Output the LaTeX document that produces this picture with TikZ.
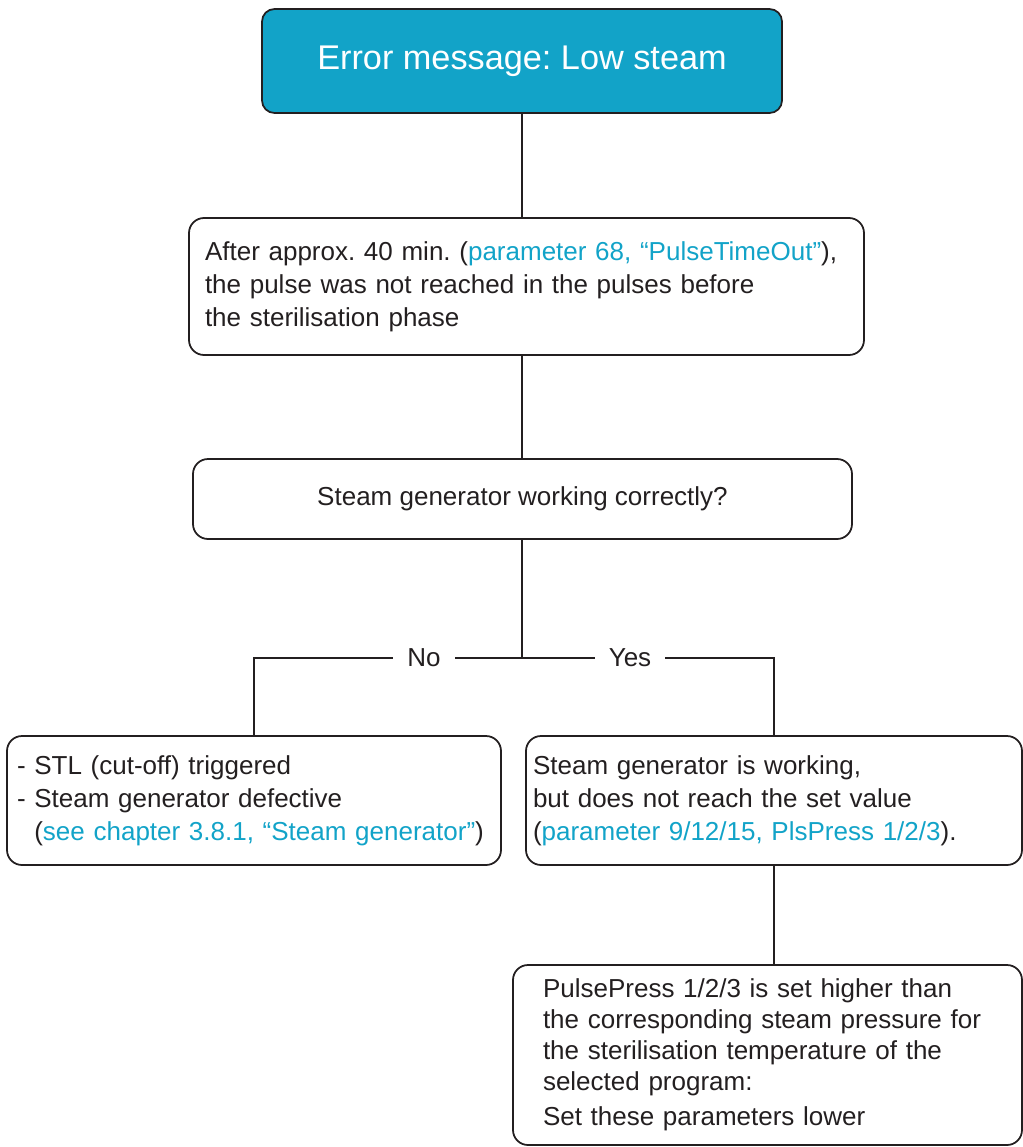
\documentclass[tikz,border=0pt]{standalone}
\usepackage{fontspec}
\setmainfont{Liberation Sans}
\frenchspacing
\definecolor{steamblue}{RGB}{18,163,200}
\definecolor{ink}{RGB}{35,31,32}
\newcommand{\linktext}[1]{\textcolor{steamblue}{#1}}

\begin{document}
\begin{tikzpicture}[
    every node/.style={font=\fontsize{14.8}{18.7}\selectfont, text=ink},
    title/.style={
        draw=ink, line width=1pt, rounded corners=2.5mm,
        fill=steamblue, text=white, font=\fontsize{19.5}{23}\selectfont,
        minimum width=104mm, minimum height=20.8mm
    },
    box/.style={
        draw=ink, line width=1pt, rounded corners=3mm, align=left
    },
    branch/.style={fill=white, inner xsep=2.8mm, inner ysep=0.5mm},
    wire/.style={draw=ink, line width=0.8pt}
]

\def\trunk{104.4mm}

% page frame
\useasboundingbox (0,0) rectangle (204.6mm,-229.4mm);

% Main column: error - info - question
\node[title] (err) at (\trunk,-12.2mm) {Error message: Low steam};

\node[box, inner xsep=3.2mm, text width=128.6mm, minimum height=27.4mm]
    (info) at (105.3mm,-57.3mm)
    {After approx. 40 min. (\linktext{parameter 68, “PulseTimeOut”}),\\
     the pulse was not reached in the pulses before\\
     the sterilisation phase};

\node[box, align=center, minimum width=131.8mm, minimum height=16mm]
    (check) at (104.5mm,-99.8mm) {Steam generator working correctly?};

% Answers
\node[box, inner xsep=2mm, text width=94.8mm, minimum height=25.8mm]
    (no) at (50.8mm,-160.1mm)
    {- STL (cut-off) triggered\\
     - Steam generator defective\\
     \phantom{-\ }(\linktext{see chapter 3.8.1, “Steam generator”})};

\node[box, inner xsep=1.4mm, text width=96.4mm, minimum height=25.8mm]
    (yes) at (154.8mm,-160.1mm)
    {Steam generator is working,\\
     but does not reach the set value\\
     (\linktext{parameter 9/12/15, PlsPress 1/2/3}).};

\node[box, inner xsep=6mm, text width=89.8mm, minimum height=36mm,
      font=\fontsize{14.8}{17.6}\selectfont]
    (fix) at (153.5mm,-211mm)
    {PulsePress 1/2/3 is set higher than\\
     the corresponding steam pressure for\\
     the sterilisation temperature of the\\
     selected program:\\[0.8mm]
     Set these parameters lower};

% Connectors
\coordinate (split) at (\trunk,-131.6mm);
\draw[wire] (err.south) -- (err.south |- info.north);
\draw[wire] (info.south -| err.south) -- (check.north -| err.south);
\draw[wire] (check.south -| split) -- (split);
\draw[wire] (no.north) |- (split) -| (yes.north);
\draw[wire] (yes.south) -- (yes.south |- fix.north);

% Branch labels
\node[branch] (lno)  at (84.8mm,-131.6mm) {No};
\node[branch] (lyes) at (126mm,-131.6mm)  {Yes};

\end{tikzpicture}
\end{document}
